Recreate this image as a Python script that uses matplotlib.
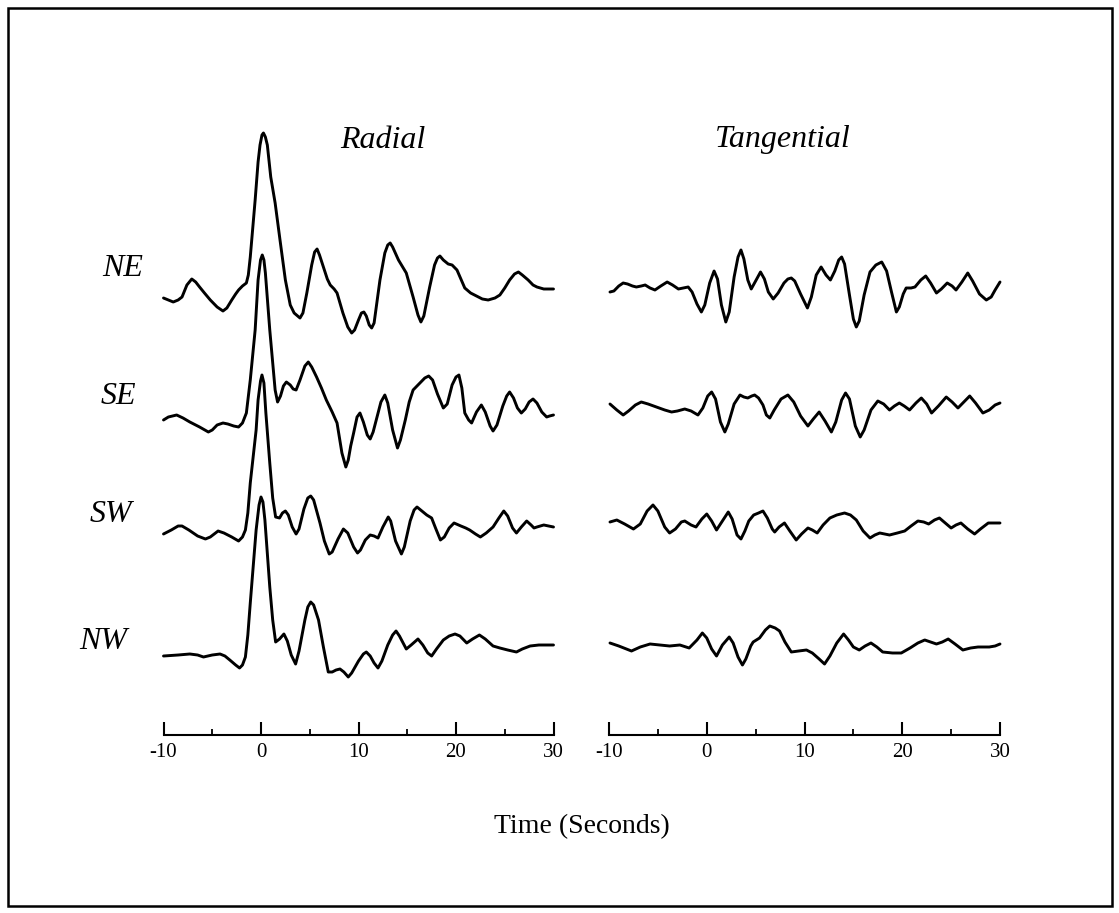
import matplotlib
matplotlib.use("Agg")
import matplotlib.pyplot as plt
from matplotlib.patches import Rectangle

# ---------------- data: (time in s, amplitude in arbitrary units) ----------------
rows = ["NE", "SE", "SW", "NW"]
panels = ["Radial", "Tangential"]
tick_values = [-10, 0, 10, 20, 30]
tick_labels = ["-10", "0", "10", "20", "30"]
minor_ticks = [-5, 5, 15, 25]
xlabel = "Time (Seconds)"

radial_ne = [(-10.0, -1), (-9.5, -3), (-9.0, -5), (-8.5, -3), (-8.1, 0), (-7.6, 12), (-7.1, 18), (-6.7, 15),
             (-6.3, 10), (-5.8, 4), (-5.2, -3), (-4.5, -10), (-3.9, -14), (-3.5, -11), (-3.0, -3), (-2.6, 3),
             (-2.3, 7), (-1.9, 11), (-1.5, 14), (-1.3, 22), (-1.1, 40), (-0.6, 97), (-0.3, 135), (-0.1, 152),
             (0.1, 162), (0.25, 164), (0.45, 160), (0.65, 152), (1.0, 120), (1.45, 94), (1.95, 57), (2.5, 17),
             (3.0, -8), (3.4, -16), (4.0, -21), (4.3, -16), (4.7, 4), (5.2, 32), (5.5, 45), (5.75, 48),
             (6.0, 42), (6.4, 30), (6.8, 18), (7.1, 12), (7.5, 8), (7.8, 4), (8.4, -16), (8.9, -30),
             (9.3, -36), (9.6, -33), (10.0, -23), (10.3, -16), (10.55, -15), (10.8, -19), (11.1, -28),
             (11.35, -31), (11.6, -26), (12.2, 17), (12.7, 44), (13.0, 52), (13.25, 54), (13.5, 50),
             (14.1, 37), (14.9, 24), (15.6, 0), (16.1, -18), (16.4, -25), (16.7, -19), (17.3, 10),
             (17.8, 32), (18.1, 39), (18.35, 41), (18.7, 37), (19.2, 33), (19.6, 32), (20.1, 27), (20.9, 9),
             (21.5, 4), (22.1, 1), (22.7, -2), (23.3, -3), (24.0, -1), (24.5, 2), (25.0, 9), (25.5, 17),
             (26.0, 23), (26.4, 25), (26.8, 22), (27.4, 17), (27.9, 12), (28.3, 10), (29.0, 8), (30.0, 8)]

radial_se = [(-10.0, -2), (-9.5, 1), (-8.65, 3), (-8.0, 0), (-7.3, -4), (-6.3, -9), (-5.4, -14), (-5.0, -12),
             (-4.5, -7), (-3.9, -5), (-3.4, -6), (-2.8, -8), (-2.3, -9), (-1.9, -5), (-1.5, 5), (-1.1, 38),
             (-0.6, 88), (-0.3, 138), (-0.05, 158), (0.13, 163), (0.3, 158), (0.45, 145), (0.9, 88),
             (1.45, 28), (1.7, 16), (2.0, 22), (2.3, 32), (2.6, 36), (3.0, 33), (3.3, 29), (3.6, 28),
             (4.0, 38), (4.5, 52), (4.85, 56), (5.2, 51), (5.7, 41), (6.2, 30), (6.7, 18), (7.3, 6),
             (7.8, -5), (8.3, -35), (8.7, -49), (8.95, -42), (9.2, -28), (9.5, -15), (9.85, 1), (10.15, 5),
             (10.5, -4), (10.9, -17), (11.2, -21), (11.5, -14), (11.9, 1), (12.3, 16), (12.7, 23), (13.0, 15),
             (13.5, -12), (14.0, -30), (14.3, -22), (14.8, -2), (15.2, 16), (15.6, 28), (16.3, 35),
             (16.8, 40), (17.2, 42), (17.6, 38), (18.1, 24), (18.7, 10), (19.1, 14), (19.6, 33), (20.0, 41),
             (20.3, 43), (20.6, 30), (20.9, 5), (21.3, -2), (21.6, -5), (22.1, 6), (22.6, 13), (23.0, 6),
             (23.5, -8), (23.8, -13), (24.2, -7), (24.8, 12), (25.2, 22), (25.5, 26), (25.9, 20), (26.3, 10),
             (26.7, 5), (27.1, 9), (27.5, 16), (27.9, 19), (28.3, 15), (28.8, 6), (29.3, 1), (29.6, 2),
             (30.0, 3)]

radial_sw = [(-10.0, -1), (-9.2, 3), (-8.5, 7), (-8.1, 7), (-7.4, 3), (-6.5, -3), (-5.7, -6), (-5.2, -4),
             (-4.4, 2), (-3.8, 0), (-3.0, -4), (-2.3, -8), (-1.9, -4), (-1.6, 3), (-1.35, 20), (-1.1, 50),
             (-0.5, 103), (-0.3, 133), (-0.05, 152), (0.1, 158), (0.3, 150), (0.5, 120), (0.9, 70),
             (1.2, 35), (1.5, 16), (1.9, 15), (2.2, 20), (2.5, 22), (2.8, 18), (3.2, 6), (3.6, -1), (3.9, 4),
             (4.4, 24), (4.8, 35), (5.1, 37), (5.4, 33), (6.05, 10), (6.5, -8), (7.0, -21), (7.3, -19),
             (7.9, -6), (8.45, 4), (8.9, 0), (9.5, -14), (9.9, -20), (10.2, -17), (10.7, -7), (11.2, -2),
             (11.6, -3), (12.0, -5), (12.5, 6), (13.05, 16), (13.3, 12), (13.8, -8), (14.4, -21),
             (14.7, -14), (15.3, 12), (15.7, 23), (16.0, 26), (16.5, 22), (17.0, 18), (17.5, 15), (17.9, 5),
             (18.4, -7), (18.8, -4), (19.3, 5), (19.8, 10), (20.5, 7), (21.0, 5), (21.4, 3), (22.0, -1),
             (22.5, -4), (23.1, 0), (23.8, 6), (24.4, 15), (24.9, 22), (25.3, 17), (25.8, 5), (26.2, 0),
             (26.7, 6), (27.25, 12), (27.7, 8), (28.0, 5), (28.3, 6), (29.0, 8), (29.5, 7), (30.0, 6)]

radial_nw = [(-10.0, -1), (-8.5, 0), (-7.3, 1), (-6.5, 0), (-5.9, -2), (-5.0, 0), (-4.2, 1), (-3.7, -1),
             (-3.2, -5), (-2.6, -10), (-2.2, -13), (-1.9, -10), (-1.6, -2), (-1.35, 20), (-1.1, 52),
             (-0.5, 125), (-0.2, 150), (0.0, 158), (0.2, 153), (0.4, 135), (0.9, 68), (1.2, 35), (1.5, 13),
             (1.9, 16), (2.35, 21), (2.7, 14), (3.1, 0), (3.55, -9), (3.9, 4), (4.5, 35), (4.8, 48),
             (5.1, 53), (5.4, 50), (5.9, 35), (6.4, 8), (6.9, -17), (7.3, -17), (7.7, -15), (8.1, -14),
             (8.5, -17), (8.95, -22), (9.3, -18), (10.0, -6), (10.5, 1), (10.8, 3), (11.2, -1), (11.6, -8),
             (12.0, -13), (12.4, -6), (13.0, 10), (13.5, 20), (13.85, 24), (14.2, 19), (14.9, 6), (15.4, 10),
             (16.1, 16), (16.6, 10), (17.1, 2), (17.5, -1), (18.0, 6), (18.7, 15), (19.3, 19), (19.9, 21),
             (20.4, 19), (21.1, 12), (21.7, 16), (22.4, 20), (23.0, 16), (23.8, 9), (24.5, 7), (25.3, 5),
             (26.2, 3), (26.8, 6), (27.6, 9), (28.5, 10), (30.0, 10)]

tang_ne = [(-9.9, 5), (-9.5, 6), (-9.0, 11), (-8.55, 14), (-8.1, 13), (-7.6, 11), (-7.2, 10), (-6.7, 11),
           (-6.3, 12), (-5.8, 9), (-5.3, 7), (-4.7, 11), (-4.05, 15), (-3.5, 12), (-2.9, 8), (-2.4, 9),
           (-1.9, 10), (-1.5, 5), (-1.0, -7), (-0.55, -15), (-0.2, -8), (0.3, 14), (0.75, 26), (1.1, 18),
           (1.5, -8), (1.95, -25), (2.3, -15), (2.8, 20), (3.2, 40), (3.5, 47), (3.8, 38), (4.2, 17),
           (4.55, 8), (5.0, 16), (5.5, 25), (5.9, 18), (6.3, 5), (6.8, -2), (7.3, 4), (7.9, 14), (8.3, 18),
           (8.65, 19), (9.0, 16), (9.6, 3), (10.3, -11), (10.7, 0), (11.2, 22), (11.7, 30), (12.2, 22),
           (12.65, 17), (13.1, 26), (13.5, 37), (13.8, 40), (14.1, 33), (14.6, 2), (15.0, -22), (15.3, -30),
           (15.6, -24), (16.1, 2), (16.7, 25), (17.3, 32), (17.9, 35), (18.4, 26), (18.9, 5), (19.4, -15),
           (19.7, -10), (20.1, 3), (20.4, 9), (20.9, 9), (21.3, 10), (21.9, 17), (22.4, 21), (22.9, 14),
           (23.5, 4), (24.0, 8), (24.6, 14), (25.1, 11), (25.5, 7), (26.1, 15), (26.7, 24), (27.2, 16),
           (27.9, 3), (28.6, -3), (29.1, 0), (29.5, 7), (30.0, 15)]

tang_se = [(-9.9, 14), (-9.2, 8), (-8.55, 3), (-8.0, 7), (-7.3, 13), (-6.7, 16), (-6.0, 14), (-5.15, 11),
           (-4.3, 8), (-3.6, 6), (-3.0, 7), (-2.25, 9), (-1.6, 7), (-0.9, 3), (-0.4, 10), (0.1, 22),
           (0.5, 26), (0.9, 19), (1.4, -4), (1.85, -14), (2.2, -6), (2.8, 14), (3.4, 23), (3.8, 21),
           (4.2, 20), (4.6, 22), (4.9, 23), (5.3, 20), (5.75, 13), (6.1, 3), (6.45, 0), (6.9, 8), (7.6, 19),
           (8.3, 23), (8.9, 16), (9.6, 2), (10.35, -8), (10.9, -1), (11.5, 6), (12.1, -3), (12.75, -14),
           (13.2, -4), (13.8, 18), (14.2, 25), (14.6, 19), (15.2, -8), (15.7, -19), (16.1, -12), (16.8, 8),
           (17.5, 17), (18.1, 14), (18.7, 8), (19.2, 12), (19.7, 15), (20.2, 12), (20.75, 8), (21.4, 15),
           (21.95, 20), (22.5, 14), (23.0, 5), (23.7, 12), (24.5, 21), (25.1, 16), (25.7, 10), (26.3, 16),
           (26.9, 22), (27.5, 15), (28.25, 5), (28.9, 8), (29.5, 13), (30.0, 15)]

tang_sw = [(-9.9, 11), (-9.2, 13), (-8.4, 9), (-7.5, 4), (-6.8, 9), (-6.1, 22), (-5.5, 28), (-5.0, 22),
           (-4.3, 6), (-3.8, 0), (-3.2, 4), (-2.6, 11), (-2.25, 12), (-1.6, 8), (-1.1, 6), (-0.5, 14),
           (0.0, 19), (0.5, 12), (1.0, 3), (1.6, 12), (2.2, 21), (2.6, 14), (3.1, -2), (3.5, -6), (3.9, 2),
           (4.3, 12), (4.8, 18), (5.3, 20), (5.75, 22), (6.2, 15), (6.7, 4), (6.95, 1), (7.4, 6), (7.95, 10),
           (8.5, 2), (9.15, -7), (9.7, -1), (10.35, 5), (10.8, 3), (11.3, 0), (11.9, 8), (12.6, 15),
           (13.3, 18), (14.1, 20), (14.7, 18), (15.3, 13), (16.0, 2), (16.7, -5), (17.2, -2), (17.7, 0),
           (18.7, -2), (19.5, 0), (20.25, 2), (20.9, 7), (21.6, 12), (22.2, 11), (22.7, 9), (23.3, 13),
           (23.8, 15), (24.4, 10), (25.0, 5), (25.5, 8), (26.0, 10), (26.7, 4), (27.4, -1), (28.0, 4),
           (28.8, 10), (29.4, 10), (30.0, 10)]

tang_nw = [(-9.9, 12), (-9.0, 9), (-7.7, 4), (-6.8, 8), (-5.8, 11), (-4.8, 10), (-3.8, 9), (-2.75, 10),
           (-1.8, 7), (-1.0, 15), (-0.45, 22), (0.0, 17), (0.5, 6), (1.0, -1), (1.6, 10), (2.3, 18),
           (2.7, 12), (3.2, -2), (3.65, -10), (4.0, -4), (4.5, 9), (4.75, 13), (5.4, 17), (6.0, 25),
           (6.45, 29), (7.0, 27), (7.45, 24), (8.0, 13), (8.65, 3), (9.4, 4), (10.2, 5), (10.8, 2),
           (11.5, -4), (12.05, -9), (12.6, -1), (13.3, 12), (14.0, 21), (14.5, 15), (15.0, 8), (15.6, 5),
           (16.2, 9), (16.8, 12), (17.4, 8), (18.0, 3), (19.0, 2), (19.9, 2), (20.8, 7), (21.6, 12),
           (22.3, 15), (22.9, 13), (23.5, 11), (24.1, 13), (24.7, 16), (25.4, 11), (26.2, 5), (27.0, 7),
           (27.75, 8), (28.9, 8), (29.5, 9), (30.0, 11)]

# ---------------- layout ----------------
W, H = 1119, 913
row_offsets = [0, -121, -236, -358]
ylim = (-438, 187)

plt.rcParams["font.family"] = ["Liberation Serif", "DejaVu Serif"]
fig = plt.figure(figsize=(W / 100, H / 100), dpi=100)
fig.patch.set_facecolor("white")

ax_bottom_px, ax_top_px = 735, 110
axes_px = [(163.5, 553.5), (609.0, 1000.0)]

traces = {
    "Radial": [radial_ne, radial_se, radial_sw, radial_nw],
    "Tangential": [tang_ne, tang_se, tang_sw, tang_nw],
}
title_px = {"Radial": (383, 140), "Tangential": (783, 140)}

for panel, (x0, x1) in zip(panels, axes_px):
    ax = fig.add_axes([x0 / W, 1 - ax_bottom_px / H, (x1 - x0) / W, (ax_bottom_px - ax_top_px) / H])
    ax.set_xlim(-10, 30)
    ax.set_ylim(*ylim)
    ax.patch.set_alpha(0)
    for tr, off in zip(traces[panel], row_offsets):
        t = [p[0] for p in tr]
        a = [p[1] + off for p in tr]
        ax.plot(t, a, color="black", lw=2.1,
                solid_joinstyle="round", solid_capstyle="round", clip_on=False)
    for s in ["left", "right", "top"]:
        ax.spines[s].set_visible(False)
    ax.spines["bottom"].set_linewidth(1.5)
    ax.set_yticks([])
    ax.set_xticks(tick_values)
    ax.set_xticklabels(tick_labels)
    ax.set_xticks(minor_ticks, minor=True)
    ax.tick_params(axis="x", which="major", direction="in", length=9.5, width=1.5,
                   labelsize=15, pad=6)
    ax.tick_params(axis="x", which="minor", direction="in", length=4, width=1.3)
    fig.text(title_px[panel][0] / W, 1 - title_px[panel][1] / H, panel, fontsize=23,
             style="italic", ha="center", va="center")

label_px = [(123, 268), (118, 396), (111, 515), (103, 641)]
for name, (lx, ly) in zip(rows, label_px):
    fig.text(lx / W, 1 - ly / H, name, fontsize=23, style="italic", ha="center", va="center")

fig.text(582 / W, 1 - 827 / H, xlabel, fontsize=20, ha="center", va="center")

fig.add_artist(Rectangle((8 / W, 1 - 906 / H), (1112 - 8) / W, (906 - 8) / H,
                         transform=fig.transFigure, fill=False, lw=1.8, edgecolor="black"))

fig.savefig("out.png", dpi=100, facecolor="white")
